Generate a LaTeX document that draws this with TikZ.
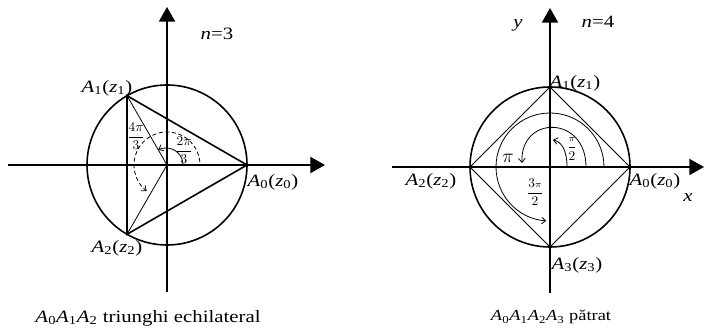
\documentclass[tikz,border=0pt]{standalone}
\usepackage{amsmath}
\usepackage{fontspec}
\setmainfont[FakeStretch=1.2]{Liberation Serif}
\usepackage{tikz}
\usetikzlibrary{arrows.meta}
\newcommand{\Az}[1]{\textit{A}\textsubscript{#1}(\textit{z}\textsubscript{#1})}
\newcommand{\Ai}[1]{\textit{A}\textsubscript{#1}}

\begin{document}
\begin{tikzpicture}[
    x=0.75pt, y=0.75pt,
    font=\fontsize{13}{15}\selectfont,
    axis/.style={line width=1.5pt, -{Triangle[length=11pt, width=12pt]}},
    rim/.style={line width=1.2pt},
    side/.style={line width=1.2pt},
    ray/.style={line width=0.6pt},
    turn/.style={line width=0.6pt, -{Straight Barb[length=3pt, width=5pt]}},
    frac/.style={font=\fontsize{10}{12}\selectfont, inner sep=1pt}
]
\useasboundingbox (0,0) rectangle (705,334);

% Panel A: triangle, n=3
\begin{scope}[shift={(167,169)}]
    \coordinate (O1) at (0,0);
    \coordinate (W1) at (-159,0);
    \coordinate (E1) at (158,0);
    \coordinate (S1) at (0,-127);
    \coordinate (N1) at (0,158);
    \coordinate (P0) at (0:80);
    \coordinate (P1) at (120:80);
    \coordinate (P2) at (240:80);

    \draw[axis] (W1) -- (E1);
    \draw[axis] (S1) -- (N1);
    \draw[rim] (O1) circle (80);

    \draw[side] (P0) -- (P1) -- (P2) -- cycle;
    \draw[ray] (O1) -- (P1);
    \draw[ray] (O1) -- (P2);

    % Angles
    \draw[turn] (16,0) arc[start angle=0, end angle=117, radius=17];
    \draw[turn, dashed, dash pattern=on 3pt off 2pt] (5:33) arc[start angle=5, end angle=232, radius=33];
    \node[frac] (f2pi) at (17,15) {$\dfrac{2\pi}{3}$};
    \node[frac] (f4pi) at (-31,29) {$\dfrac{4\pi}{3}$};

    \node (lP0) at (106,-17) {\Az{0}};
    \node (lP1) at (-60,77) {\Az{1}};
    \node (lP2) at (-50,-83) {\Az{2}};
    \node (n3) at (50,131) {\textit{n}=3};

    \node (capA) at (-19,-153) {\Ai{0}\Ai{1}\Ai{2} triunghi echilateral};
\end{scope}

% Panel B: square, n=4
\begin{scope}[shift={(550,167)}]
    \coordinate (O2) at (0,0);
    \coordinate (W2) at (-158,0);
    \coordinate (E2) at (154,0);
    \coordinate (S2) at (0,-126);
    \coordinate (N2) at (0,159);
    \coordinate (Q0) at (0:80);
    \coordinate (Q1) at (90:80);
    \coordinate (Q2) at (180:80);
    \coordinate (Q3) at (270:80);

    \draw[axis] (W2) -- (E2);
    \draw[axis] (S2) -- (N2);
    \draw[rim] (O2) circle (80);

    \draw[ray] (Q0) -- (Q1) -- (Q2) -- (Q3) -- cycle;

    % Angles
    \draw[turn] (17,0) .. controls (17,16) and (12,25) .. (3,27);
    \draw[turn] (36,0) .. controls (36,52) and (-30,52) .. (-28,4);
    \draw[turn] (54,0) arc[start angle=0, end angle=266, radius=54];
    \node[frac] (fpi2) at (22,18) {$\dfrac{\scriptstyle\pi}{2}$};
    \node[font=\fontsize{15}{17}\selectfont] (fpi) at (-42,9) {$\pi$};
    \node[frac] (f3pi) at (-15,-25) {$\dfrac{3\scriptstyle\pi}{2}$};

    \node (lQ0) at (105,-14) {\Az{0}};
    \node (lQ1) at (25,84) {\Az{1}};
    \node (lQ2) at (-119,-14) {\Az{2}};
    \node (lQ3) at (27,-98) {\Az{3}};
    \node (xlab) at (138,-31) {\textit{x}};
    \node (ylab) at (-32,142) {\textit{y}};
    \node (n4) at (48,145) {\textit{n}=4};

    \node[font=\fontsize{11.5}{13}\selectfont] (capB) at (1,-150) {\Ai{0}\Ai{1}\Ai{2}\Ai{3} pătrat};
\end{scope}
\end{tikzpicture}
\end{document}
